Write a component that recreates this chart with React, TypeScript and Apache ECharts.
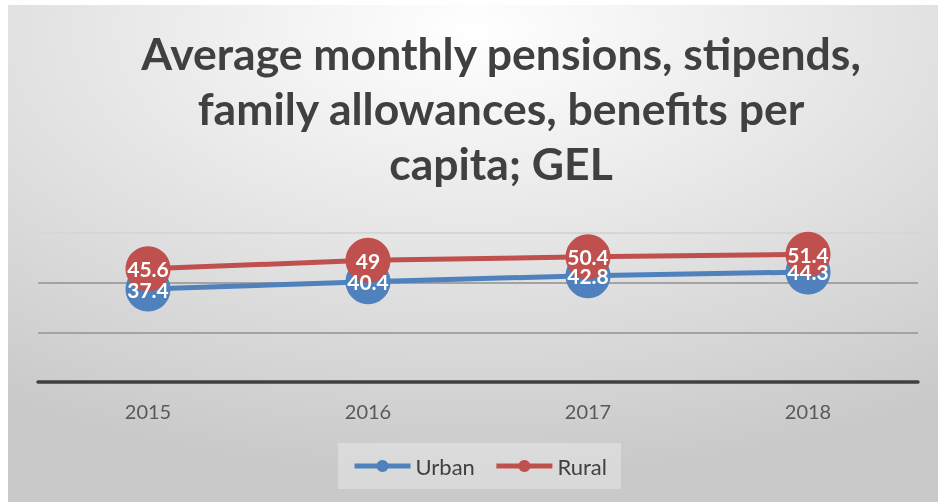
import React, { useEffect, useRef } from "react";
import * as echarts from "echarts";

const titleText = "Average monthly pensions, stipends,\nfamily allowances, benefits per\ncapita; GEL";
const years = ["2015", "2016", "2017", "2018"];
const urban = [37.4, 40.4, 42.8, 44.3];
const rural = [45.6, 49, 50.4, 51.4];
const seriesNames = ["Urban", "Rural"];
const colors = ["#4f81bd", "#c0504d"];

export default function App() {
  const ref = useRef<HTMLDivElement>(null);
  useEffect(() => {
    if (!ref.current) return;
    const chart = echarts.init(ref.current, null, { renderer: "svg" });
    const label = {
      show: true,
      position: "inside",
      color: "#ffffff",
      fontFamily: "Lato",
      fontWeight: "bold",
      fontSize: 21,
    };
    chart.setOption({
      animation: false,
      backgroundColor: {
        type: "radial",
        x: 0.5,
        y: 0.05,
        r: 0.9,
        colorStops: [
          { offset: 0, color: "#ffffff" },
          { offset: 1, color: "#c9c9c9" },
        ],
      },
      title: {
        text: titleText,
        left: 488,
        textAlign: "center",
        top: 15,
        textStyle: {
          fontFamily: "Lato",
          fontWeight: "bold",
          fontSize: 44.5,
          lineHeight: 55,
          color: "#404040",
        },
      },
      legend: {
        data: seriesNames,
        left: 330,
        top: 438,
        padding: [12, 14],
        itemGap: 19,
        itemWidth: 56,
        itemHeight: 15,
        lineStyle: { width: 5 },
        backgroundColor: "rgba(255,255,255,0.3)",
        textStyle: { fontFamily: "Lato", fontSize: 22, color: "#404040" },
      },
      grid: { left: 30, right: 20, top: 228, bottom: 120 },
      xAxis: {
        type: "category",
        data: years,
        boundaryGap: true,
        axisLine: { lineStyle: { color: "#404040", width: 3.5 } },
        axisTick: { show: false },
        axisLabel: {
          color: "#595959",
          fontFamily: "Lato",
          fontSize: 20,
          margin: 19,
        },
      },
      yAxis: {
        type: "value",
        min: 0,
        max: 60,
        interval: 20,
        axisLabel: { show: false },
        axisLine: { show: false },
        axisTick: { show: false },
        splitLine: {
          lineStyle: {
            color: ["rgba(0,0,0,0)", "#a3a3a3", "#a3a3a3", "#d6d6d6"],
            width: 2,
          },
        },
      },
      series: [
        {
          name: seriesNames[0],
          type: "line",
          data: urban,
          color: colors[0],
          symbol: "circle",
          symbolSize: 45,
          lineStyle: { width: 5, color: colors[0] },
          itemStyle: { color: colors[0] },
          label,
          z: 2,
        },
        {
          name: seriesNames[1],
          type: "line",
          data: rural,
          color: colors[1],
          symbol: "circle",
          symbolSize: 45,
          lineStyle: { width: 5, color: colors[1] },
          itemStyle: { color: colors[1] },
          label,
          z: 2,
        },
      ],
    });
    return () => chart.dispose();
  }, []);
  return (
    <div
      ref={ref}
      style={{ position: "fixed", left: 8, top: 5, width: 930, height: 497 }}
    />
  );
}
